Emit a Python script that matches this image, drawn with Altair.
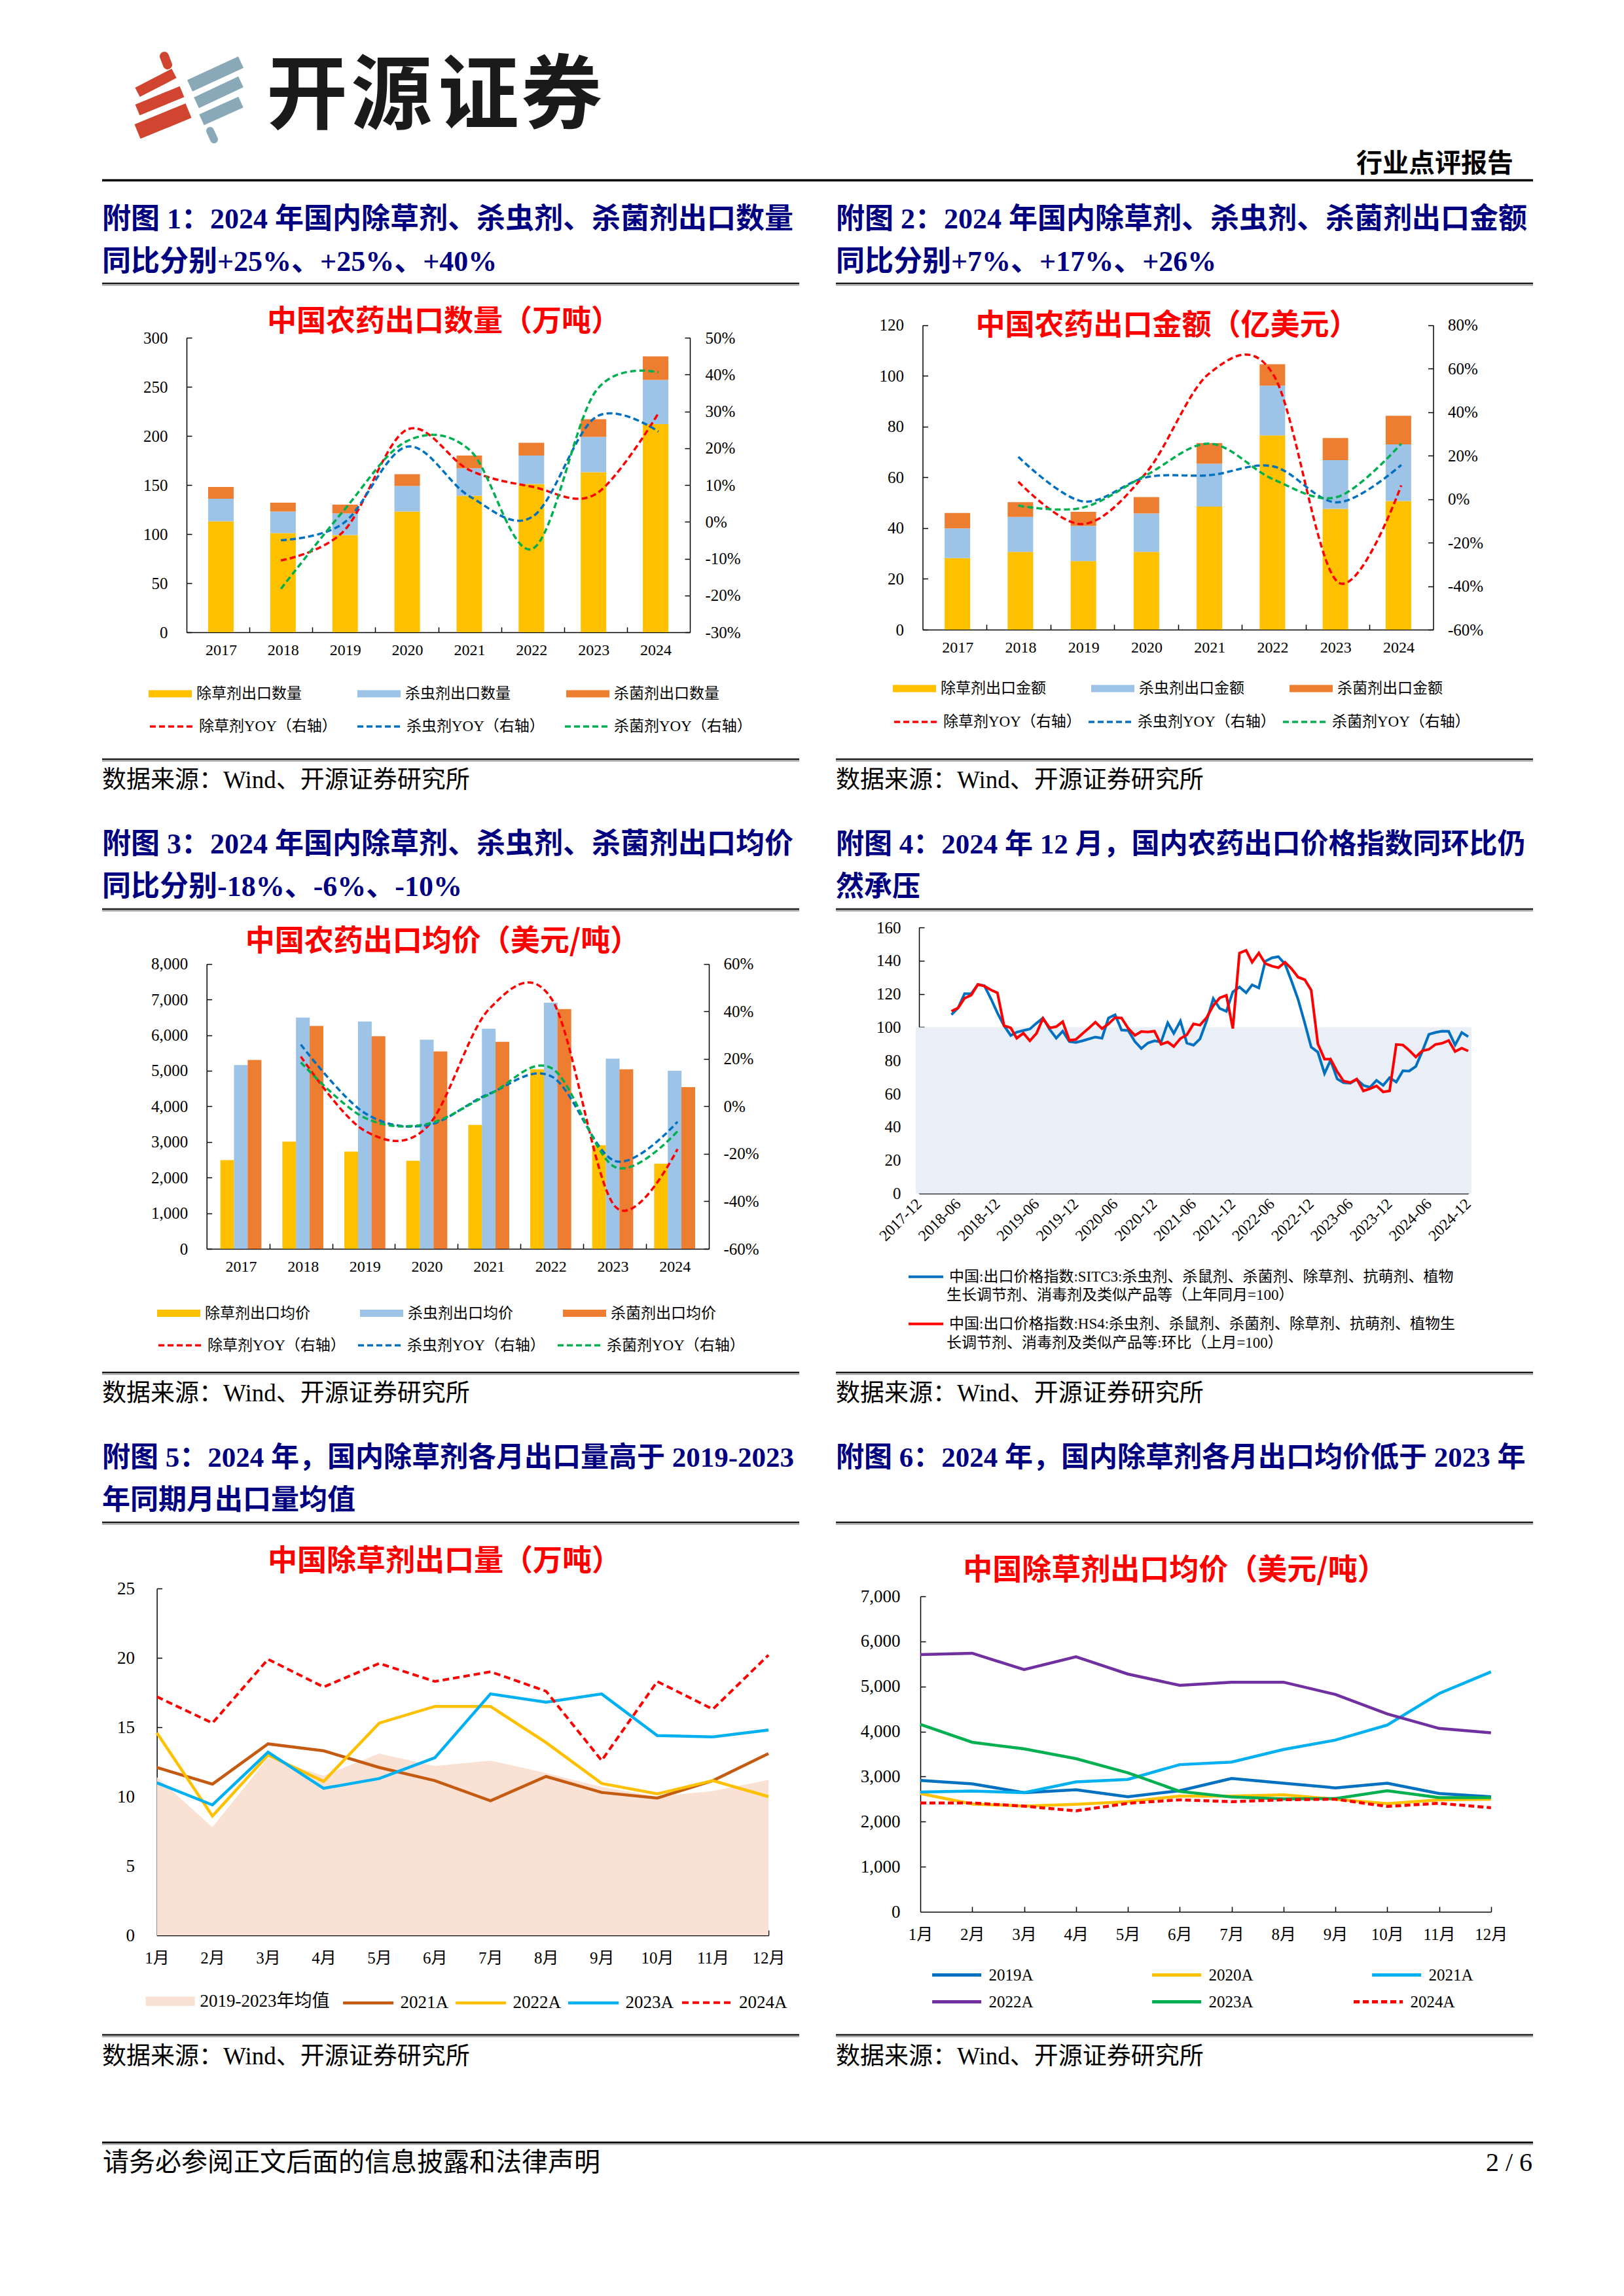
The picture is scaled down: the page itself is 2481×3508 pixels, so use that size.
import altair as alt
import pandas as pd

W, H = 2465, 3490


def px(v):
    return v - 8


def py(v):
    return v - 8


SERIF = "Liberation Serif, Noto Sans CJK SC"
CJK = "Noto Sans CJK SC, Liberation Serif"
NAVY = "#000080"

# ---------------- data ----------------
years = [2017, 2018, 2019, 2020, 2021, 2022, 2023, 2024]
yoy_years = [2018, 2019, 2020, 2021, 2022, 2023, 2024]

# 附图1 出口数量（万吨）
qty_herb = [113, 101, 99, 123, 139, 151, 163, 212]
qty_insect = [23, 22, 22, 26, 28, 29, 36, 45]
qty_fung = [12, 9, 9, 12, 13, 13, 18, 24]
qty_herb_yoy = [-10.5, -2.5, 25, 14, 9.5, 7.5, 29.5]
qty_insect_yoy = [-5, -0.3, 20.4, 6.9, 1.4, 28.4, 24.5]
qty_fung_yoy = [-18.2, 3.1, 21.9, 19.5, -7.3, 35.4, 40.6]

# 附图2 出口金额（亿美元）
amt_herb = [28.2, 30.6, 27.0, 30.6, 48.5, 76.5, 47.6, 50.7]
amt_insect = [11.7, 13.8, 13.9, 15.2, 16.9, 19.6, 19.2, 22.3]
amt_fung = [6.1, 5.8, 5.5, 6.4, 8.1, 8.5, 8.7, 11.3]
amt_herb_yoy = [8, -11.5, 12, 58, 57, -38, 6.3]
amt_insect_yoy = [19.4, -1, 10, 11, 15, -1.5, 15.7]
amt_fung_yoy = [-3, -4, 11, 25.5, 9, 1, 25.5]

# 附图3 出口均价（美元/吨）
price_herb = [2490, 3010, 2730, 2470, 3480, 5040, 2910, 2390]
price_insect = [5160, 6490, 6380, 5870, 6180, 6910, 5340, 5000]
price_fung = [5300, 6260, 5970, 5540, 5810, 6730, 5040, 4540]
price_herb_yoy = [21, -10, -9, 41, 45, -42, -18]
price_insect_yoy = [26, -2.5, -8, 5.3, 12.5, -23, -6.5]
price_fung_yoy = [18.5, -4.6, -7.5, 5, 16, -25.5, -10.5]

# 附图4 出口价格指数 2018-05 ~ 2024-12
months4 = pd.date_range("2018-05-01", "2024-12-01", freq="MS").strftime("%Y-%m-%d").tolist()
idx_sitc3 = [107.5, 111.6, 120.1, 120.1, 125.7, 125.0, 117.1, 108.6, 100.9, 95.0,
             97.0, 98.0, 98.9, 102.4, 105.5, 98.7, 93.4, 97.6, 91.4, 90.8,
             91.8, 93.0, 94.1, 93.4, 105.5, 107.5, 98.3, 98.0, 91.4, 87.2,
             90.5, 91.8, 91.1, 102.6, 96.3, 103.7, 90.5, 89.2,
             92.9, 103.8, 117.2, 111.3, 109.5, 121.2, 124.2, 120.7, 125.5, 123.6,
             139.6, 141.7, 142.4, 138.0, 127.5, 116.7, 102.5, 88.0, 85.0, 72.2,
             80.1, 68.9, 66.6, 66.3, 68.6, 65.0, 63.9, 68.0, 65.0, 69.6,
             67.0, 73.8, 73.6, 76.4, 85.4, 95.7, 96.8, 97.6, 97.5, 89.3,
             96.8, 94.3]
idx_hs4 = [109.6, 111.6, 117.4, 119.3, 125.7, 124.7, 122.4, 120.7, 100.9, 99.6,
           93.4, 96.4, 91.8, 96.3, 105.3, 99.6, 100.3, 103.3, 92.1, 92.6,
           96.1, 99.6, 103.0, 99.1, 102.0, 105.8, 105.5, 99.3, 95.1, 97.4,
           97.1, 97.6, 89.7, 91.1, 88.4, 93.2, 95.4, 102.0,
           101.2, 105.8, 113.0, 117.6, 119.2, 99.2, 144.6, 146.2, 139.1, 144.6,
           138.3, 136.7, 135.8, 139.1, 135.1, 130.1, 128.6, 122.2, 90.0, 80.8,
           80.8, 73.3, 67.6, 66.7, 68.8, 61.7, 63.0, 64.7, 61.1, 61.7,
           89.6, 89.3, 86.1, 82.1, 85.8, 86.7, 89.6, 90.3, 92.0, 85.4,
           87.4, 85.7]
tick4 = ["2017-12", "2018-06", "2018-12", "2019-06", "2019-12", "2020-06", "2020-12",
         "2021-06", "2021-12", "2022-06", "2022-12", "2023-06", "2023-12", "2024-06", "2024-12"]
shade_start, shade_end, shade_level = "2017-11-16", "2024-12-16", 100

# 附图5 除草剂月出口量（万吨）
months = list(range(1, 13))
herb_avg_1923 = [11.4, 7.8, 12.8, 11.5, 13.1, 12.2, 12.6, 11.7, 10.7, 10.0, 10.4, 11.2]
herb_q2021 = [12.1, 10.9, 13.8, 13.3, 12.1, 11.15, 9.7, 11.45, 10.3, 9.9, 11.15, 13.1]
herb_q2022 = [14.6, 8.6, 13.0, 11.1, 15.3, 16.5, 16.5, 13.9, 10.95, 10.2, 11.15, 10.0]
herb_q2023 = [11.0, 9.4, 13.2, 10.6, 11.3, 12.8, 17.4, 16.8, 17.4, 14.4, 14.3, 14.8]
herb_q2024 = [17.2, 15.3, 19.9, 17.9, 19.6, 18.3, 19.0, 17.6, 12.6, 18.3, 16.3, 20.2]

# 附图6 除草剂月出口均价（美元/吨）
herb_p2019 = [2917, 2840, 2645, 2708, 2554, 2687, 2959, 2854, 2750, 2854, 2624, 2554]
herb_p2020 = [2624, 2394, 2345, 2387, 2443, 2568, 2568, 2596, 2498, 2401, 2485, 2498]
herb_p2021 = [2659, 2680, 2645, 2882, 2938, 3266, 3322, 3601, 3810, 4145, 4843, 5325]
herb_p2022 = [5709, 5737, 5374, 5660, 5276, 5025, 5095, 5095, 4823, 4390, 4069, 3971]
herb_p2023 = [4160, 3762, 3615, 3399, 3085, 2673, 2547, 2505, 2512, 2687, 2533, 2533]
herb_p2024 = [2415, 2415, 2345, 2240, 2408, 2485, 2443, 2485, 2498, 2338, 2408, 2310]

BAR_COLORS = ["#FFC000", "#9DC3E6", "#ED7D31"]
YOY_COLORS = ["#FF0000", "#0070C0", "#00B050"]


def long_df(xs, series):
    rows = []
    for k, (name, vals) in enumerate(series):
        for x, v in zip(xs, vals):
            rows.append({"x": x, "series": name, "value": v, "ord": k})
    return pd.DataFrame(rows)


layers = []


def add_text(s, x, y, size, color="black", weight="normal", align="left", font=SERIF):
    layers.append(
        alt.Chart(pd.DataFrame({"t": [s]})).mark_text(
            align=align, baseline="middle", fontSize=size, font=font,
            color=color, fontWeight=weight
        ).encode(x=alt.value(px(x)), y=alt.value(py(y)), text="t:N")
    )


def add_hrule(x1, x2, y, w, color):
    layers.append(
        alt.Chart(pd.DataFrame({"k": [1]})).mark_rule(color=color, strokeWidth=w).encode(
            x=alt.value(px(x1)), x2=alt.value(px(x2)), y=alt.value(py(y))
        )
    )


def add_double(x1, x2, y):
    add_hrule(x1, x2, y, 2.6, "#1a1a1a")
    add_hrule(x1, x2, y + 2.6, 1.6, "#9a9a9a")


def add_seg(x1, y1, x2, y2, w, color, cap="butt"):
    layers.append(
        alt.Chart(pd.DataFrame({"k": [1]})).mark_rule(color=color, strokeWidth=w, strokeCap=cap).encode(
            x=alt.value(px(x1)), y=alt.value(py(y1)), x2=alt.value(px(x2)), y2=alt.value(py(y2))
        )
    )


BASE = dict(grid=False, title=None, labelFlush=False, labelOverlap=False, labelColor="black",
            domainColor="black", tickColor="black", labelFont=SERIF)


def ax_left(x0, vals, size, pad, expr=None, fmt=None):
    d = dict(orient="left", offset=-px(x0), values=vals, ticks=False, tickSize=0, domain=True,
             domainWidth=1.5, labelFontSize=size, labelPadding=pad, **BASE)
    if expr:
        d["labelExpr"] = expr
    if fmt:
        d["format"] = fmt
    return alt.Axis(**d)


def ax_right(x1, vals, size, pad, expr=None):
    d = dict(orient="right", offset=px(x1) - W, values=vals, ticks=False, tickSize=0, domain=True,
             domainWidth=1.5, labelFontSize=size, labelPadding=pad, **BASE)
    if expr:
        d["labelExpr"] = expr
    return alt.Axis(**d)


def ax_bottom(y1, vals, size, pad, expr=None, fmt=None, angle=None, align=None, baseline=None):
    d = dict(orient="bottom", offset=py(y1) - H, values=vals, ticks=False, tickSize=0, domain=True,
             domainWidth=1.5, labelFontSize=size, labelPadding=pad, **BASE)
    if expr:
        d["labelExpr"] = expr
    if fmt:
        d["format"] = fmt
    if angle is not None:
        d["labelAngle"] = angle
    if align:
        d["labelAlign"] = align
    if baseline:
        d["labelBaseline"] = baseline
    return alt.Axis(**d)


def tick_right(x0, vals):
    return alt.Axis(orient="right", offset=px(x0) - W, values=vals, labels=False, domain=False,
                    ticks=True, tickSize=8, tickWidth=1.5, **BASE)


def tick_left(x1, vals):
    return alt.Axis(orient="left", offset=-px(x1), values=vals, labels=False, domain=False,
                    ticks=True, tickSize=8, tickWidth=1.5, **BASE)


def tick_top(y1, vals):
    return alt.Axis(orient="top", offset=-py(y1), values=vals, labels=False, domain=False,
                    ticks=True, tickSize=8, tickWidth=1.5, **BASE)


BAR_SYM = "M-1,-0.17H1V0.17H-1Z"
AREA_SYM = "M-1,-0.19H1V0.19H-1Z"


def leg(x, yc, sym, s, cols, colpad, fsize, loff, grid="all", sw=None, dash=None, expr=None):
    d = dict(orient="none", legendX=px(x), legendY=py(yc) - s / 2.0, direction="horizontal",
             columns=cols, columnPadding=colpad, symbolType=sym, symbolSize=s * s,
             labelFont=SERIF, labelFontSize=fsize, labelOffset=loff, labelLimit=1500,
             labelColor="black", title=None, padding=0, gridAlign=grid, rowPadding=0,
             symbolOpacity=1)
    if sw is not None:
        d["symbolStrokeWidth"] = sw
    if dash is not None:
        d["symbolDash"] = dash
    if expr is not None:
        d["labelExpr"] = expr
    return alt.Legend(**d)


def year_chart(x0, x1, yt, yb, bar_series, stacked, bar_w, ldom, lvals, lfmt, rdom, rvals,
               yoy_series, leg_x, leg_y1, leg_y2, colpad1, colpad2, lpad, rpad, xpad):
    xs = alt.Scale(domain=[2016.5, 2024.5], range=[px(x0), px(x1)], nice=False, zero=False)
    yl = alt.Scale(domain=ldom, range=[py(yb), py(yt)], nice=False, zero=False)
    yr = alt.Scale(domain=rdom, range=[py(yb), py(yt)], nice=False, zero=False)
    bdf = long_df(years, bar_series)
    ydf = long_df(yoy_years, yoy_series)
    bnames = [n for n, _ in bar_series]
    ynames = [n for n, _ in yoy_series]
    bounds = [y + 0.5 for y in years[:-1]]
    xaxis = ax_bottom(yb, years, 24, xpad, fmt="d")
    yaxis = ax_left(x0, lvals, 25, lpad, fmt=lfmt)
    color_b = alt.Color("series:N", scale=alt.Scale(domain=bnames, range=BAR_COLORS),
                        legend=leg(leg_x, leg_y1, BAR_SYM, 66, 3, colpad1, 23, 7, sw=0))
    if stacked:
        bars = alt.Chart(bdf).mark_bar(size=bar_w).encode(
            x=alt.X("x:Q", scale=xs, axis=xaxis),
            y=alt.Y("value:Q", scale=yl, stack="zero", axis=yaxis),
            color=color_b,
            order=alt.Order("ord:Q", sort="ascending"),
        )
    else:
        bars = alt.Chart(bdf).transform_calculate(
            xp="datum.x + (datum.ord - 1) * 0.22"
        ).mark_bar(size=bar_w).encode(
            x=alt.X("xp:Q", scale=xs, axis=xaxis),
            y=alt.Y("value:Q", scale=yl, stack=None, axis=yaxis),
            color=color_b,
        )
    ghost1 = alt.Chart(bdf).mark_point(opacity=0).encode(
        x=alt.X("x:Q", scale=xs, axis=tick_top(yb, bounds)),
        y=alt.Y("value:Q", scale=yl, axis=tick_right(x0, lvals)),
    )
    ghost2 = alt.Chart(ydf).mark_point(opacity=0).encode(
        x=alt.X("x:Q", scale=xs, axis=None),
        y=alt.Y("value:Q", scale=yr, axis=tick_left(x1, rvals)),
    )
    lines = alt.Chart(ydf).mark_line(interpolate="cardinal", strokeWidth=3.5, strokeDash=[9, 5]).encode(
        x=alt.X("x:Q", scale=xs, axis=None),
        y=alt.Y("value:Q", scale=yr, axis=ax_right(x1, rvals, 25, rpad, expr="datum.value + '%'")),
        color=alt.Color("series:N", scale=alt.Scale(domain=ynames, range=YOY_COLORS),
                        legend=leg(leg_x, leg_y2, "stroke", 66, 3, colpad2, 23, 7, sw=3.5, dash=[9, 5])),
    )
    layers.extend([bars, ghost1, ghost2, lines])


# ---------------- page header ----------------
RED_LOGO, BLUE_LOGO = "#D04430", "#8AA9B8"
add_seg(251, 86, 256, 99, 14, RED_LOGO, "round")
add_seg(210, 141, 266, 112, 16, RED_LOGO)
add_seg(210, 168, 278, 140, 18, RED_LOGO)
add_seg(210, 201, 288, 169, 24, RED_LOGO)
add_seg(290, 131, 368, 95, 19, BLUE_LOGO)
add_seg(300, 157, 368, 125, 18, BLUE_LOGO)
add_seg(308, 183, 368, 156, 18, BLUE_LOGO)
add_seg(321, 200, 327, 213, 12, BLUE_LOGO, "round")
for ch, cx in zip("开源证券", [469, 598, 731, 858]):
    add_text(ch, cx, 150, 124, color="#1a1a1a", weight="bold", align="center", font=CJK)
add_text("行业点评报告", 2312, 251, 40, weight="bold", align="right", font=CJK)
add_hrule(156, 2342, 275.5, 3.5, "black")

# ---------------- figure titles / sources ----------------
LX, RX = 156, 1277
add_text("附图 1：2024 年国内除草剂、杀虫剂、杀菌剂出口数量", LX, 336, 44, NAVY, "bold")
add_text("同比分别+25%、+25%、+40%", LX, 401, 44, NAVY, "bold")
add_text("附图 2：2024 年国内除草剂、杀虫剂、杀菌剂出口金额", RX, 336, 44, NAVY, "bold")
add_text("同比分别+7%、+17%、+26%", RX, 401, 44, NAVY, "bold")
add_double(LX, 1221, 433)
add_double(RX, 2342, 433)

add_text("附图 3：2024 年国内除草剂、杀虫剂、杀菌剂出口均价", LX, 1291, 44, NAVY, "bold")
add_text("同比分别-18%、-6%、-10%", LX, 1356, 44, NAVY, "bold")
add_text("附图 4：2024 年 12 月，国内农药出口价格指数同环比仍", RX, 1291, 43, NAVY, "bold")
add_text("然承压", RX, 1356, 43, NAVY, "bold")
add_double(LX, 1221, 1389)
add_double(RX, 2342, 1389)

add_text("附图 5：2024 年，国内除草剂各月出口量高于 2019-2023", LX, 2228, 43, NAVY, "bold")
add_text("年同期月出口量均值", LX, 2293, 43, NAVY, "bold")
add_text("附图 6：2024 年，国内除草剂各月出口均价低于 2023 年", RX, 2228, 43, NAVY, "bold")
add_double(LX, 1221, 2326)
add_double(RX, 2342, 2326)

for ly, ty in [(1160, 1193), (2097, 2130), (3109, 3143)]:
    add_double(LX, 1221, ly)
    add_double(RX, 2342, ly)
    add_text("数据来源：Wind、开源证券研究所", LX, ty, 37)
    add_text("数据来源：Wind、开源证券研究所", RX, ty, 37)

add_hrule(156, 2342, 3273.5, 3.2, "#111111")
add_hrule(156, 2342, 3276.5, 1.4, "#9a9a9a")
add_text("请务必参阅正文后面的信息披露和法律声明", 157, 3305, 40)
add_text("2 / 6", 2341, 3305, 40, align="right")

# ---------------- chart titles ----------------
add_text("中国农药出口数量（万吨）", 678, 492, 45, "#FF0000", "bold", "center", CJK)
add_text("中国农药出口金额（亿美元）", 1783, 498, 45, "#FF0000", "bold", "center", CJK)
add_text("中国农药出口均价（美元/吨）", 676, 1439, 45, "#FF0000", "bold", "center", CJK)
add_text("中国除草剂出口量（万吨）", 679, 2386, 45, "#FF0000", "bold", "center", CJK)
add_text("中国除草剂出口均价（美元/吨）", 1795, 2400, 45, "#FF0000", "bold", "center", CJK)

# ---------------- chart 1 ----------------
year_chart(
    285, 1054, 516, 966,
    [("除草剂出口数量", qty_herb), ("杀虫剂出口数量", qty_insect), ("杀菌剂出口数量", qty_fung)],
    True, 39, [0, 300], list(range(0, 301, 50)), None, [-30, 50], list(range(-30, 51, 10)),
    [("除草剂YOY（右轴）", qty_herb_yoy), ("杀虫剂YOY（右轴）", qty_insect_yoy), ("杀菌剂YOY（右轴）", qty_fung_yoy)],
    227, 1060, 1108, 85, 24, 29, 23, 15,
)

# ---------------- chart 2 ----------------
year_chart(
    1409.5, 2189.5, 496.7, 962,
    [("除草剂出口金额", amt_herb), ("杀虫剂出口金额", amt_insect), ("杀菌剂出口金额", amt_fung)],
    True, 39, [0, 120], list(range(0, 121, 20)), None, [-60, 80], list(range(-60, 81, 20)),
    [("除草剂YOY（右轴）", amt_herb_yoy), ("杀虫剂YOY（右轴）", amt_insect_yoy), ("杀菌剂YOY（右轴）", amt_fung_yoy)],
    1364, 1052, 1101, 69, 4, 29, 22, 15,
)

# ---------------- chart 3 ----------------
year_chart(
    315.7, 1083, 1472.7, 1908,
    [("除草剂出口均价", price_herb), ("杀虫剂出口均价", price_insect), ("杀菌剂出口均价", price_fung)],
    False, 21, [0, 8000], list(range(0, 8001, 1000)), ",.0f", [-60, 60], list(range(-60, 61, 20)),
    [("除草剂YOY（右轴）", price_herb_yoy), ("杀虫剂YOY（右轴）", price_insect_yoy), ("杀菌剂YOY（右轴）", price_fung_yoy)],
    240, 2006.5, 2053.6, 76, 12, 29, 22, 15,
)

# ---------------- chart 4 ----------------


def dt(s):
    y, m = s.split("-")[:2]
    return alt.DateTime(year=int(y), month=int(m), date=1, utc=True)


S4_BLUE_1 = "中国:出口价格指数:SITC3:杀虫剂、杀鼠剂、杀菌剂、除草剂、抗萌剂、植物"
S4_BLUE_2 = "生长调节剂、消毒剂及类似产品等（上年同月=100）"
S4_RED_1 = "中国:出口价格指数:HS4:杀虫剂、杀鼠剂、杀菌剂、除草剂、抗萌剂、植物生"
S4_RED_2 = "长调节剂、消毒剂及类似产品等:环比（上月=100）"

xs4 = alt.Scale(type="utc", domain=[dt(tick4[0]), dt(tick4[-1])], range=[px(1404), px(2243)], nice=False)
ys4 = alt.Scale(domain=[0, 160], range=[py(1823.5), py(1417)], nice=False, zero=False)
y4vals = list(range(0, 161, 20))

shade_df = pd.DataFrame({"start": [shade_start], "end": [shade_end], "level": [shade_level], "base": [0]})
layers.append(
    alt.Chart(shade_df).mark_rect(color="#E9EEF7").encode(
        x=alt.X("start:T", scale=xs4,
                axis=ax_bottom(1823.5, [dt(t) for t in tick4], 24, 12, fmt="%Y-%m", angle=-45,
                               align="right", baseline="middle")),
        x2="end:T",
        y=alt.Y("level:Q", scale=ys4, axis=ax_left(1404, y4vals, 25, 28)),
        y2="base:Q",
    )
)
df4b = long_df(months4, [(S4_BLUE_1 + S4_BLUE_2, idx_sitc3)])
df4r = long_df(months4, [(S4_RED_1 + S4_RED_2, idx_hs4)])
layers.append(
    alt.Chart(df4b).mark_line(strokeWidth=4).encode(
        x=alt.X("x:T", scale=xs4, axis=tick_top(1823.5, [dt(t) for t in tick4[1:]])),
        y=alt.Y("value:Q", scale=ys4, axis=tick_right(1404, y4vals[1:])),
        color=alt.Color("series:N", scale=alt.Scale(domain=[S4_BLUE_1 + S4_BLUE_2], range=["#0070C0"]),
                        legend=leg(1386, 1948.7, "stroke", 53, 1, 0, 23, 7, sw=4, expr="'" + S4_BLUE_1 + "'")),
    )
)
layers.append(
    alt.Chart(df4r).mark_line(strokeWidth=4).encode(
        x=alt.X("x:T", scale=xs4, axis=None),
        y=alt.Y("value:Q", scale=ys4, axis=None),
        color=alt.Color("series:N", scale=alt.Scale(domain=[S4_RED_1 + S4_RED_2], range=["#FF0000"]),
                        legend=leg(1386, 2020.8, "stroke", 53, 1, 0, 23, 7, sw=4, expr="'" + S4_RED_1 + "'")),
    )
)
add_text(S4_BLUE_2, 1446, 1978.5, 23)
add_text(S4_RED_2, 1446, 2052, 23)

# ---------------- chart 5 ----------------
xs5 = alt.Scale(domain=[1, 12], range=[px(239.6), px(1174)], nice=False, zero=False)
ys5 = alt.Scale(domain=[0, 25], range=[py(2957), py(2427)], nice=False, zero=False)
layers.append(
    alt.Chart(long_df(months, [("2019-2023年均值", herb_avg_1923)])).mark_area(opacity=1).encode(
        x=alt.X("x:Q", scale=xs5, axis=ax_bottom(2957, months, 25, 22, expr="datum.value + '月'")),
        y=alt.Y("value:Q", scale=ys5, axis=ax_left(239.6, list(range(0, 26, 5)), 27, 34)),
        color=alt.Color("series:N", scale=alt.Scale(domain=["2019-2023年均值"], range=["#F9E1D3"]),
                        legend=leg(222.6, 3057.7, AREA_SYM, 75, 1, 0, 27, 8, sw=0)),
    )
)
layers.append(
    alt.Chart(long_df(months, [("2021A", herb_q2021), ("2022A", herb_q2022), ("2023A", herb_q2023)])).mark_line(
        strokeWidth=4.5).encode(
        x=alt.X("x:Q", scale=xs5, axis=tick_top(2957, months[1:])),
        y=alt.Y("value:Q", scale=ys5, axis=tick_right(239.6, list(range(5, 26, 5)))),
        color=alt.Color("series:N", scale=alt.Scale(domain=["2021A", "2022A", "2023A"],
                                                     range=["#C55A11", "#FFC000", "#00B0F0"]),
                        legend=leg(521.6, 3057.7, "stroke", 77, 3, 1, 27, 8, grid="none", sw=4.5)),
    )
)
layers.append(
    alt.Chart(long_df(months, [("2024A", herb_q2024)])).mark_line(strokeWidth=4, strokeDash=[10, 6]).encode(
        x=alt.X("x:Q", scale=xs5, axis=None),
        y=alt.Y("value:Q", scale=ys5, axis=None),
        color=alt.Color("series:N", scale=alt.Scale(domain=["2024A"], range=["#FF0000"]),
                        legend=leg(1040, 3057.7, "stroke", 77, 1, 0, 27, 8, sw=4, dash=[10, 6])),
    )
)

# ---------------- chart 6 ----------------
xs6 = alt.Scale(domain=[1, 12], range=[px(1406), px(2277.8)], nice=False, zero=False)
ys6 = alt.Scale(domain=[0, 7000], range=[py(2921), py(2439)], nice=False, zero=False)
y6vals = list(range(0, 7001, 1000))
layers.append(
    alt.Chart(long_df(months, [("2019A", herb_p2019), ("2020A", herb_p2020), ("2021A", herb_p2021)])).mark_line(
        strokeWidth=4.5).encode(
        x=alt.X("x:Q", scale=xs6, axis=ax_bottom(2921, months, 25, 22, expr="datum.value + '月'")),
        y=alt.Y("value:Q", scale=ys6, axis=ax_left(1406, y6vals, 27, 31, fmt=",.0f")),
        color=alt.Color("series:N", scale=alt.Scale(domain=["2019A", "2020A", "2021A"],
                                                     range=["#0070C0", "#FFC000", "#00B0F0"]),
                        legend=leg(1421.6, 3015, "stroke", 75, 3, 170, 25, 9, sw=5)),
    )
)
layers.append(
    alt.Chart(long_df(months, [("2022A", herb_p2022), ("2023A", herb_p2023)])).mark_line(
        strokeWidth=4.5).encode(
        x=alt.X("x:Q", scale=xs6, axis=tick_top(2921, months[1:])),
        y=alt.Y("value:Q", scale=ys6, axis=tick_right(1406, y6vals[1:])),
        color=alt.Color("series:N", scale=alt.Scale(domain=["2022A", "2023A"], range=["#7030A0", "#00B050"]),
                        legend=leg(1421.6, 3056, "stroke", 75, 2, 170, 25, 9, sw=5)),
    )
)
layers.append(
    alt.Chart(long_df(months, [("2024A", herb_p2024)])).mark_line(strokeWidth=4.5, strokeDash=[9, 5]).encode(
        x=alt.X("x:Q", scale=xs6, axis=None),
        y=alt.Y("value:Q", scale=ys6, axis=None),
        color=alt.Color("series:N", scale=alt.Scale(domain=["2024A"], range=["#FF0000"]),
                        legend=leg(2065.5, 3056, "stroke", 75, 1, 0, 25, 9, sw=5, dash=[9, 5])),
    )
)

chart = alt.layer(*layers).resolve_scale(
    x="independent", y="independent", color="independent"
).properties(
    width=W, height=H, autosize=alt.AutoSizeParams(type="none"), padding=0, background="white"
).configure_view(stroke=None)

chart.save("out.html", embed_options={"renderer": "svg", "actions": False})
